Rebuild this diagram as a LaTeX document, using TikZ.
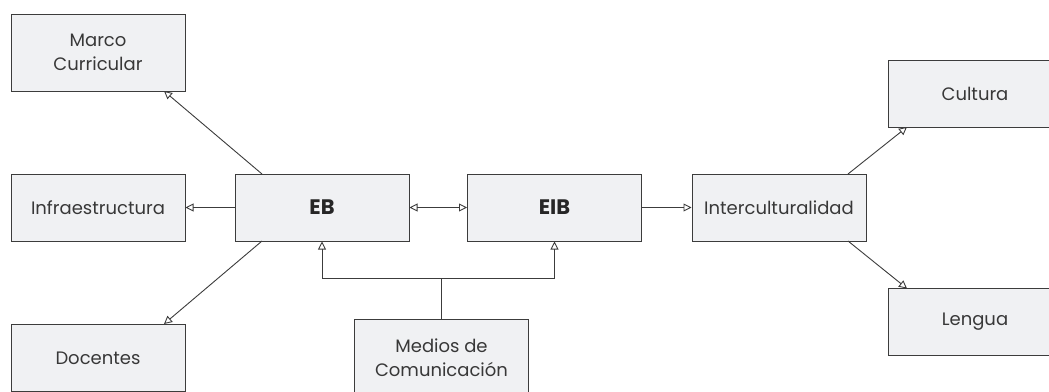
\documentclass[tikz,border=0pt]{standalone}
\usepackage{fontspec}
\setmainfont{Poppins}
\usetikzlibrary{arrows.meta}
\definecolor{boxfill}{HTML}{F0F1F3}
\definecolor{boxline}{HTML}{3C3C3C}
\definecolor{txt}{HTML}{383838}
\begin{document}
\begin{tikzpicture}[x=1pt,y=-1pt,
  box/.style={draw=boxline,fill=boxfill,line width=1pt,minimum width=174pt,minimum height=67pt,inner sep=0pt,align=center,text=txt,font=\fontsize{18}{24}\selectfont},
  tall/.style={minimum height=77pt},
  bold/.style={font=\fontsize{21}{24}\selectfont\bfseries,text=black!85},
  conn/.style={draw=boxline,line width=0.9pt,-{Triangle[open,length=8pt,width=8pt]}}]
\useasboundingbox (0,0) rectangle (1049,391);
\node[box,tall] (marco) at (98,52.5) {Marco\\Curricular};
\node[box] (infra) at (98,207.5) {Infraestructura};
\node[box] (doc) at (98,358) {Docentes};
\node[box,bold] (eb) at (322,207.5) {EB};
\node[box,bold] (eib) at (554.5,207.5) {EIB};
\node[box] (inter) at (779,207.5) {Interculturalidad};
\node[box] (cult) at (975,93.5) {Cultura};
\node[box] (leng) at (975,322) {Lengua};
\node[box,tall] (med) at (441.5,357.5) {Medios de\\Comunicación};
\coordinate (ebtl) at (262,174);
\coordinate (ebbl) at (262,241);
\coordinate (mt) at (164,91);
\coordinate (db) at (164,324);
\draw[conn] (ebtl) -- (mt);
\draw[conn] (eb.west) -- (infra.east);
\draw[conn] (ebbl) -- (db);
\draw[conn,{Triangle[open,length=8pt,width=8pt]}-{Triangle[open,length=8pt,width=8pt]}] (eb.east) -- (eib.west);
\draw[conn] (eib.east) -- (inter.west);
\coordinate (jn) at (441.5,278);
\draw[draw=boxline,line width=0.9pt] (med.north) -- (jn);
\draw[conn] (jn) -| (eb.south);
\draw[conn] (jn) -| (eib.south);
\coordinate (itr) at (848,174);
\coordinate (ibr) at (848,241);
\coordinate (cb) at (907,127);
\coordinate (lt) at (907,288.5);
\draw[conn] (itr) -- (cb);
\draw[conn] (ibr) -- (lt);
\end{tikzpicture}
\end{document}
